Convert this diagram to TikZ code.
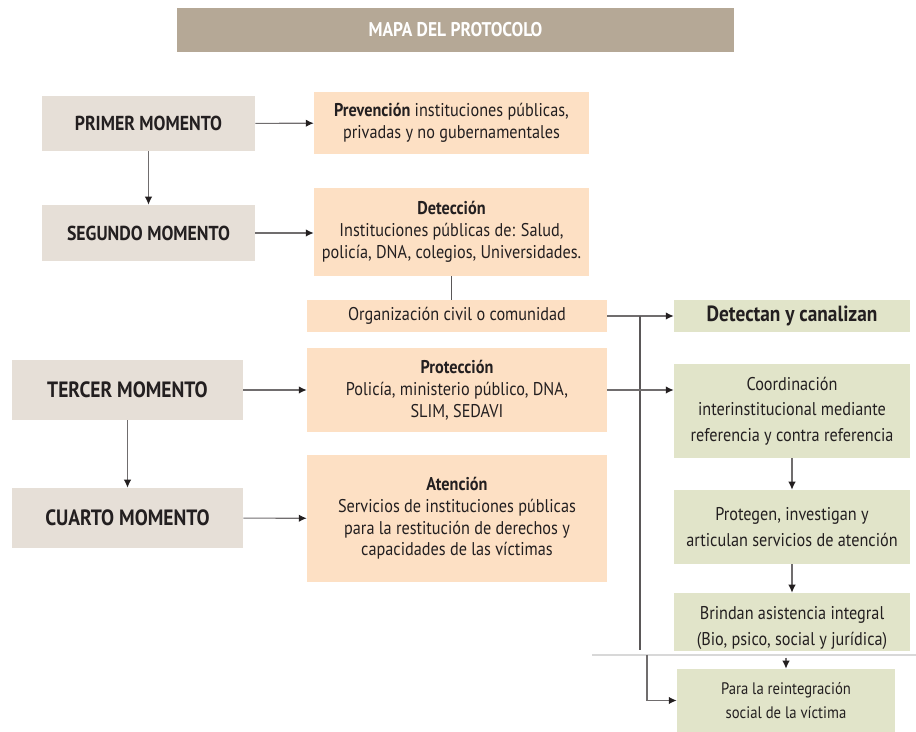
\documentclass[tikz,border=0pt]{standalone}
\usepackage{fontspec}
\setmainfont{PT Sans}[FakeStretch=0.88]
\usepackage{tikz}
\usetikzlibrary{arrows.meta,positioning,calc}

\definecolor{titlebg}{HTML}{B5A896}
\definecolor{momfill}{HTML}{E6DFD7}
\definecolor{peach}{HTML}{FDE0C4}
\definecolor{sage}{HTML}{E1E4C9}
\definecolor{ink}{HTML}{231F20}
\definecolor{cutline}{HTML}{D8D8D8}

\begin{document}
\begin{tikzpicture}[x=0.02cm, y=-0.02cm,
    mom/.style={fill=momfill, minimum width=4.26cm, minimum height=1.1cm, align=center, font=\fontsize{11.5}{13}\selectfont\bfseries, text=ink},
    inst/.style={fill=peach, minimum width=5.5cm, align=center, font=\fontsize{10.5}{12.4}\selectfont, text=ink},
    res/.style={fill=sage, minimum width=4.72cm, align=center, font=\fontsize{10.5}{14.6}\selectfont, text=ink},
    arr/.style={-{Latex[length=4.5pt, width=4.2pt, color=ink]}, draw=ink!65, line width=0.6pt},
    lin/.style={draw=ink!75, line width=0.6pt}
]
\useasboundingbox (0,0) rectangle (916,732);

% titulo
\node[fill=titlebg, minimum width=11.14cm, minimum height=0.88cm, text=white, font=\fontsize{11.3}{13}\selectfont\bfseries] (tit) at (455.5,30) {MAPA DEL PROTOCOLO};

% momentos
\node[mom] (m1) at (148.5,123.5) {PRIMER MOMENTO};
\node[mom, minimum height=1.12cm] (m2) at (148.5,233) {SEGUNDO MOMENTO};
\node[mom, minimum width=4.62cm, minimum height=1.2cm, font=\fontsize{12.6}{14}\selectfont\bfseries] (m3) at (127.5,390) {TERCER MOMENTO};
\node[mom, minimum width=4.62cm, minimum height=1.2cm, font=\fontsize{12.6}{14}\selectfont\bfseries] (m4) at (127.5,518) {CUARTO MOMENTO};

% instituciones
\node[inst, minimum height=1.24cm] (prev) at (451.5,123) {\textbf{Prevención} instituciones públicas,\\privadas y no gubernamentales};
\node[inst, minimum height=1.76cm] (det) at (451.5,232) {\textbf{Detección}\\Instituciones públicas de: Salud,\\policía, DNA, colegios, Universidades.};
\node[inst, minimum width=6cm, minimum height=0.64cm] (org) at (457,316) {Organización civil o comunidad};
\node[inst, minimum width=6cm, minimum height=1.68cm] (prot) at (457,390) {\textbf{Protección}\\Policía, ministerio público, DNA,\\SLIM, SEDAVI};
\node[inst, minimum width=6cm, minimum height=2.54cm] (aten) at (457,518.5) {\textbf{Atención}\\Servicios de instituciones públicas\\para la restitución de derechos y\\capacidades de las víctimas};

% resultados
\node[res, minimum height=0.64cm, font=\fontsize{12.5}{14}\selectfont\bfseries] (dc) at (792,316) {Detectan y canalizan};
\node[res, minimum height=1.88cm] (coord) at (792,411) {Coordinación\\interinstitucional mediante\\referencia y contra referencia};
\node[res, minimum height=1.48cm] (protg) at (792,527) {Protegen, investigan y\\articulan servicios de atención};
\node[res, minimum height=1.16cm] (brin) at (792,622) {};
\node[align=center, font=\fontsize{10.5}{14.6}\selectfont, text=ink, inner sep=0pt] (brintxt) at (792,628) {Brindan asistencia integral\\(Bio, psico, social y jurídica)};
\node[res, minimum width=4.36cm, minimum height=1.26cm, font=\fontsize{9.5}{13.5}\selectfont] (reint) at (786,700.5) {Para la reintegración\\social de la víctima};

% puntos de quiebre
\coordinate (q1) at (640,316);
\coordinate (q2) at (640,650);
\coordinate (q3) at (647,655);

% conectores
\draw[arr] (m1) -- (prev);
\draw[arr] (m1) -- (m2);
\draw[arr] (m2) -- (det.west |- m2);
\draw[lin] (det.south) -- (det.south |- org.north);
\draw[arr] (org) -- (dc);
\draw[lin] (q1) -- (q2);
\draw[arr] (m3) -- (prot);
\draw[arr] (m3) -- (m4);
\draw[arr] (m4) -- (aten);
\draw[arr] (prot.east) -- (prot.east -| coord.west);
\draw[arr] (coord) -- (protg);
\draw[arr] (protg) -- (brin);
\draw[cutline, line width=1.2pt] (592,655) -- (916,655);
\draw[arr] (reint.north) ++(0,-11) -- (reint.north);
\draw[arr] (q3) |- (reint.west);
\end{tikzpicture}
\end{document}
